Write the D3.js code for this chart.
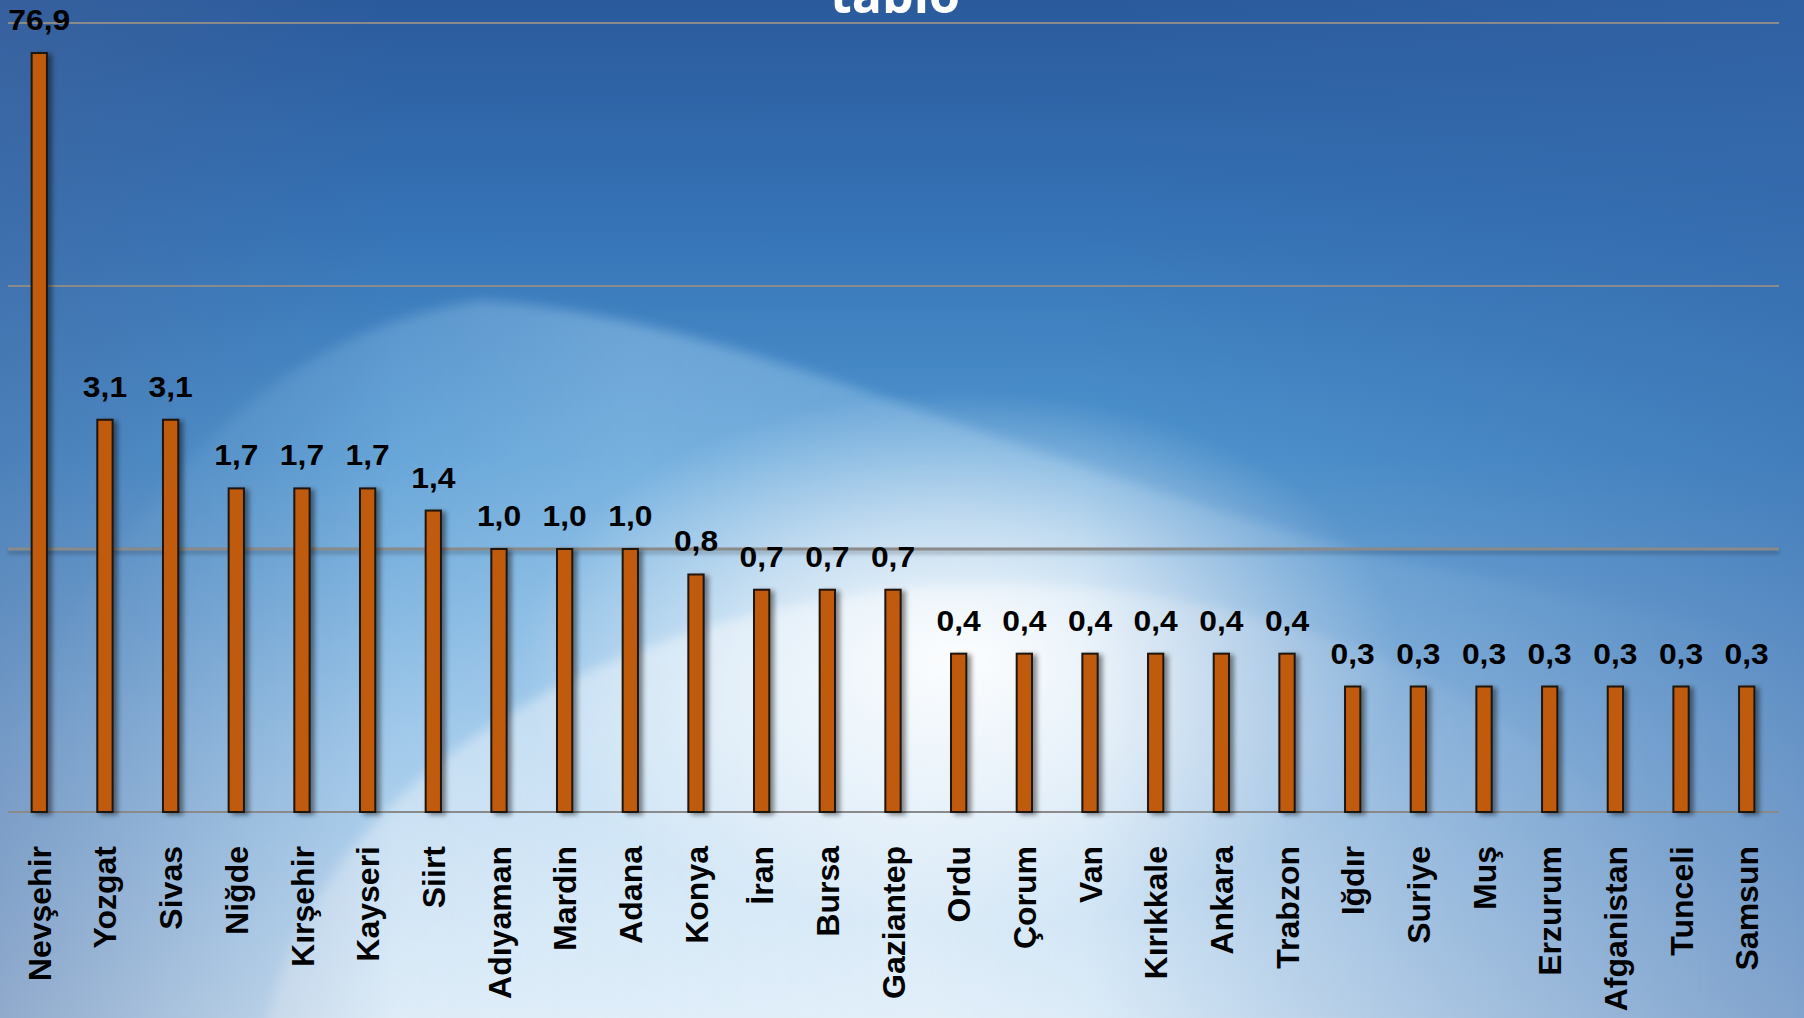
<!DOCTYPE html>
<html>
  <head>
    <meta charset='utf-8'>
    <script src="https://d3js.org/d3.v7.min.js"></script>
    <title>tablo</title>
    <style>
      body { margin: 0; overflow: hidden; }
      svg { display: block; }
    </style>
  </head>
  <body>
    <div id='chartDIV'></div>
    <script>

  // data (per cent, log axis)
  var places = ["Nevşehir", "Yozgat", "Sivas", "Niğde", "Kırşehir", "Kayseri", "Siirt",
    "Adıyaman", "Mardin", "Adana", "Konya", "İran", "Bursa", "Gaziantep", "Ordu",
    "Çorum", "Van", "Kırıkkale", "Ankara", "Trabzon", "Iğdır", "Suriye", "Muş",
    "Erzurum", "Afganistan", "Tunceli", "Samsun"];
  var percents = [76.9, 3.1, 3.1, 1.7, 1.7, 1.7, 1.4, 1.0, 1.0, 1.0, 0.8, 0.7, 0.7, 0.7,
    0.4, 0.4, 0.4, 0.4, 0.4, 0.4, 0.3, 0.3, 0.3, 0.3, 0.3, 0.3, 0.3];
  var gridValues = [100, 10, 1, 0.1];
  var titleText = "tablo";

  const W = 1804, H = 1018;
  const margin = { top: 23, right: 26, bottom: 206, left: 8 };

  var svg = d3.select("#chartDIV")
    .append("svg")
    .attr("width", W)
    .attr("height", H);

  var defs = svg.append("defs");

  var bg = defs.append("linearGradient").attr("id", "bgGrad")
    .attr("x1", 0).attr("y1", 0).attr("x2", 0).attr("y2", 1);
  bg.append("stop").attr("offset", 0).attr("stop-color", "#2a5a9c");
  bg.append("stop").attr("offset", 0.22).attr("stop-color", "#3573b6");
  bg.append("stop").attr("offset", 0.45).attr("stop-color", "#4f95cf");
  bg.append("stop").attr("offset", 0.72).attr("stop-color", "#98c1e5");
  bg.append("stop").attr("offset", 1).attr("stop-color", "#cde1f2");

  var sideL = defs.append("linearGradient").attr("id", "sideL")
    .attr("x1", 0).attr("y1", 0).attr("x2", 1).attr("y2", 0);
  sideL.append("stop").attr("offset", 0).attr("stop-color", "#46689f").attr("stop-opacity", 0.45);
  sideL.append("stop").attr("offset", 0.22).attr("stop-color", "#46689f").attr("stop-opacity", 0);

  var sideR = defs.append("linearGradient").attr("id", "sideR")
    .attr("x1", 0).attr("y1", 0).attr("x2", 1).attr("y2", 0);
  sideR.append("stop").attr("offset", 0.6).attr("stop-color", "#3566a8").attr("stop-opacity", 0);
  sideR.append("stop").attr("offset", 1).attr("stop-color", "#3566a8").attr("stop-opacity", 0.5);

  var beam = defs.append("linearGradient").attr("id", "beam")
    .attr("x1", 0).attr("y1", 0).attr("x2", 1).attr("y2", 0);
  beam.append("stop").attr("offset", 0).attr("stop-color", "#bfe4fb").attr("stop-opacity", 0);
  beam.append("stop").attr("offset", 0.35).attr("stop-color", "#bfe4fb").attr("stop-opacity", 0.35);
  beam.append("stop").attr("offset", 0.75).attr("stop-color", "#bfe4fb").attr("stop-opacity", 0.2);
  beam.append("stop").attr("offset", 1).attr("stop-color", "#bfe4fb").attr("stop-opacity", 0);

  var glow = defs.append("radialGradient").attr("id", "glow");
  glow.append("stop").attr("offset", 0).attr("stop-color", "#ffffff").attr("stop-opacity", 0.95);
  glow.append("stop").attr("offset", 0.5).attr("stop-color", "#ffffff").attr("stop-opacity", 0.55);
  glow.append("stop").attr("offset", 1).attr("stop-color", "#ffffff").attr("stop-opacity", 0);

  var hill = defs.append("linearGradient").attr("id", "hill")
    .attr("x1", 0).attr("y1", 0).attr("x2", 1).attr("y2", 0);
  hill.append("stop").attr("offset", 0).attr("stop-color", "#ffffff").attr("stop-opacity", 0.35);
  hill.append("stop").attr("offset", 0.45).attr("stop-color", "#ffffff").attr("stop-opacity", 0.45);
  hill.append("stop").attr("offset", 0.8).attr("stop-color", "#ffffff").attr("stop-opacity", 0.1);
  hill.append("stop").attr("offset", 1).attr("stop-color", "#ffffff").attr("stop-opacity", 0);

  defs.append("filter").attr("id", "soft")
    .attr("x", -0.2).attr("y", -0.2).attr("width", 1.4).attr("height", 1.4)
    .append("feGaussianBlur").attr("stdDeviation", 6);

  defs.append("filter").attr("id", "blurLine")
    .attr("filterUnits", "userSpaceOnUse")
    .attr("x", 0).attr("y", 0).attr("width", W).attr("height", H)
    .append("feGaussianBlur").attr("stdDeviation", 2);

  defs.append("filter").attr("id", "shadow")
    .attr("x", -1).attr("y", -0.1).attr("width", 3).attr("height", 1.2)
    .append("feDropShadow").attr("dx", 4).attr("dy", 2).attr("stdDeviation", 2.5)
    .attr("flood-color", "#000").attr("flood-opacity", 0.45);

  // background
  svg.append("rect").attr("width", W).attr("height", H).attr("fill", "url(#bgGrad)");
  svg.append("path")
    .attr("d", "M0,760 C150,440 300,330 480,300 C760,320 1020,470 1400,560 C1600,600 1750,630 1804,650 L1804,1018 L0,1018 Z")
    .attr("fill", "url(#beam)").attr("filter", "url(#soft)");
  svg.append("ellipse")
    .attr("cx", 1000).attr("cy", 1100).attr("rx", 742).attr("ry", 515)
    .attr("fill", "url(#hill)").attr("filter", "url(#soft)");
  svg.append("ellipse")
    .attr("cx", 960).attr("cy", 660).attr("rx", 440).attr("ry", 270)
    .attr("fill", "url(#glow)");
  svg.append("rect").attr("width", W).attr("height", H).attr("fill", "url(#sideL)");
  svg.append("rect").attr("width", W).attr("height", H).attr("fill", "url(#sideR)");

  var xScale = d3.scaleBand()
    .domain(places)
    .range([margin.left, W - margin.right])
    .paddingInner(0.767)
    .paddingOuter(0.36);

  var yScale = d3.scaleLog()
    .domain([0.1, 100])
    .range([H - margin.bottom, margin.top]);

  var fmt = d3.formatLocale({ decimal: ",", thousands: ".", grouping: [3], currency: ["", ""] }).format(".1f");

  // gridlines (the one at 1 is heavier and casts a shadow)
  var grid = svg.append("g");
  grid.selectAll("line.shade")
    .data(gridValues.filter(d => d == 1))
    .enter()
    .append("line")
    .attr("class", "shade")
    .attr("x1", margin.left)
    .attr("x2", W - margin.right + 1)
    .attr("y1", d => yScale(d) + 3)
    .attr("y2", d => yScale(d) + 3)
    .attr("stroke", "#000")
    .attr("stroke-opacity", 0.3)
    .attr("stroke-width", 3)
    .attr("filter", "url(#blurLine)");
  grid.selectAll("line.grid")
    .data(gridValues)
    .enter()
    .append("line")
    .attr("class", "grid")
    .attr("x1", margin.left)
    .attr("x2", W - margin.right + 1)
    .attr("y1", d => yScale(d))
    .attr("y2", d => yScale(d))
    .attr("stroke", "#8a8a8a")
    .attr("stroke-width", d => d == 1 ? 3 : 2);

  // bars
  svg.append("g").selectAll("rect")
    .data(percents)
    .enter()
    .append("rect")
    .attr("x", (d, i) => xScale(places[i]))
    .attr("y", d => yScale(d))
    .attr("width", xScale.bandwidth())
    .attr("height", d => yScale(0.1) - yScale(d))
    .attr("fill", "#c05a08")
    .attr("stroke", "#1e150c")
    .attr("stroke-width", 2)
    .attr("filter", "url(#shadow)");

  // value labels
  svg.append("g").selectAll("text")
    .data(percents)
    .enter()
    .append("text")
    .attr("transform", (d, i) => "translate(" + (xScale(places[i]) + xScale.bandwidth() / 2) + "," + (yScale(d) - 23) + ") scale(1.06,1)")
    .attr("text-anchor", "middle")
    .style("font-family", "'Liberation Sans', Arial, sans-serif")
    .style("font-weight", "bold")
    .style("font-size", "30px")
    .attr("fill", "#000")
    .text(d => fmt(d));

  // category labels
  svg.append("g").selectAll("text")
    .data(places)
    .enter()
    .append("text")
    .attr("transform", d => "translate(" + (xScale(d) + xScale.bandwidth() / 2) + "," + (yScale(0.1) + 34) + ") rotate(-90)")
    .attr("text-anchor", "end")
    .attr("dy", "0.36em")
    .style("font-family", "'Liberation Sans', Arial, sans-serif")
    .style("font-weight", "bold")
    .style("font-size", "32px")
    .attr("fill", "#000")
    .text(d => d);

  // title, cut off by the top edge as on the slide
  svg.append("text")
    .attr("x", 895)
    .attr("y", 13)
    .attr("text-anchor", "middle")
    .style("font-family", "'Open Sans', 'Liberation Sans', sans-serif")
    .style("font-weight", "bold")
    .style("font-size", "50px")
    .attr("fill", "#ffffff")
    .text(titleText);

    </script>
  </body>
</html>
